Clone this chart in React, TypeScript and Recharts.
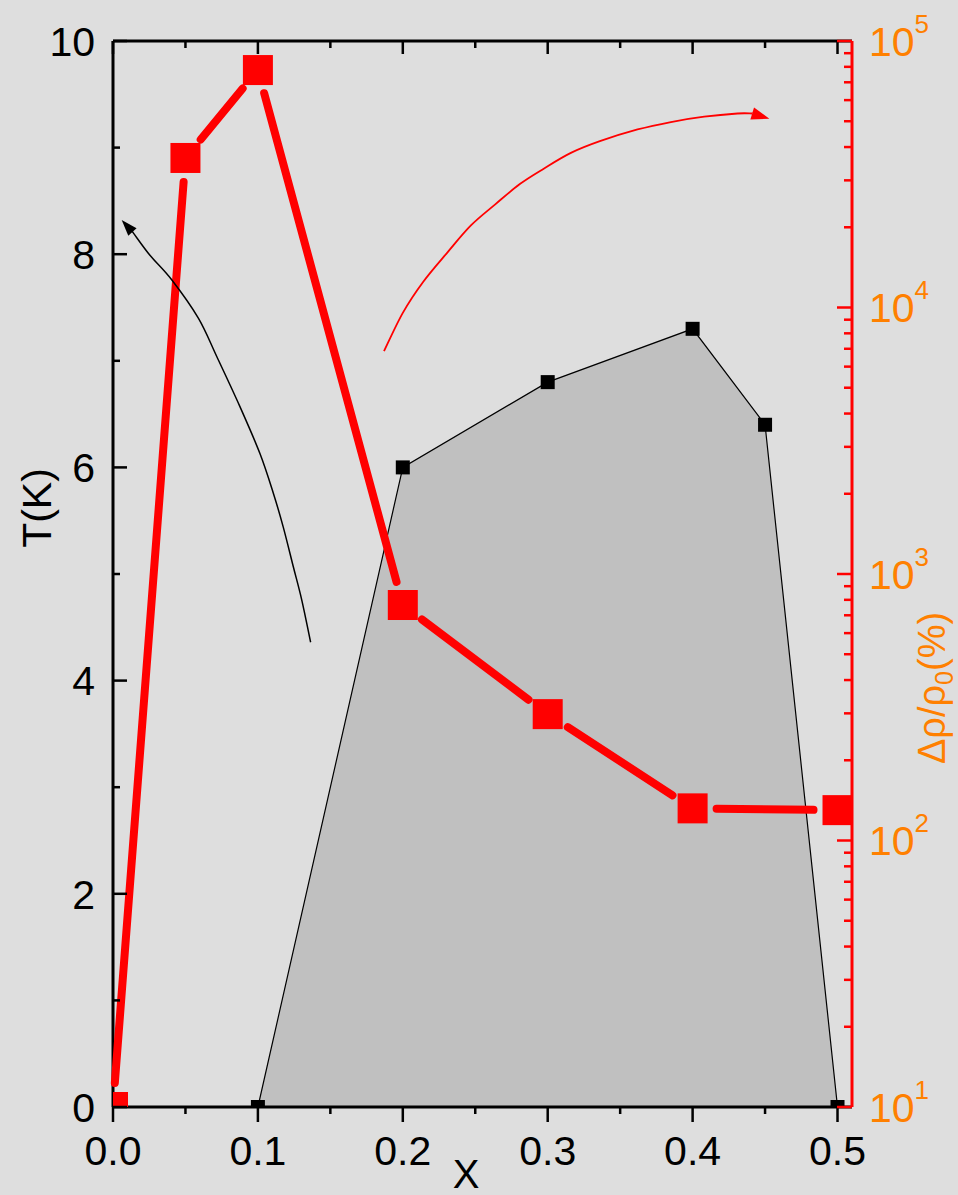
import React from "react";
import { Area, ComposedChart, Customized, Scatter, XAxis, YAxis } from "recharts";

const FONT = '"Liberation Sans", Arial, Helvetica, sans-serif';
const RED = "#ff0000";
const ORANGE = "#ff8000";

// T(K) against x, black squares and grey region
const xBlack = [0.1, 0.2, 0.3, 0.4, 0.45, 0.5];
const tBlack = [0, 6.0, 6.8, 7.3, 6.4, 0];

// Δρ/ρ0 (%) against x, red squares on the log axis
const xRed = [0, 0.05, 0.1, 0.2, 0.3, 0.4, 0.5];
const rhoRed = [10, 36400, 77800, 765, 298, 132, 130];

// annotation arrows, in (x, T) units, tip last
const blackArrowX = [0.1364, 0.1302, 0.1244, 0.1175, 0.1106, 0.1014, 0.0876, 0.0716, 0.0589, 0.0405, 0.0255, 0.014, 0.006];
const blackArrowT = [4.36, 4.76, 5.07, 5.44, 5.76, 6.13, 6.57, 7.04, 7.4, 7.76, 7.99, 8.2, 8.32];
const redArrowX = [0.187, 0.2, 0.214, 0.231, 0.247, 0.264, 0.281, 0.297, 0.316, 0.336, 0.362, 0.385, 0.408, 0.431, 0.441, 0.453];
const redArrowT = [7.09, 7.45, 7.74, 8.02, 8.27, 8.47, 8.66, 8.8, 8.95, 9.06, 9.17, 9.24, 9.29, 9.32, 9.32, 9.27];

const xTicks = [0, 0.05, 0.1, 0.15, 0.2, 0.25, 0.3, 0.35, 0.4, 0.45, 0.5];
const tTicks = [0, 1, 2, 3, 4, 5, 6, 7, 8, 9, 10];
const rhoTicks = [
  10, 20, 30, 40, 50, 60, 70, 80, 90,
  100, 200, 300, 400, 500, 600, 700, 800, 900,
  1000, 2000, 3000, 4000, 5000, 6000, 7000, 8000, 9000,
  10000, 20000, 30000, 40000, 50000, 60000, 70000, 80000, 90000,
  100000,
];

const blackData = xBlack.map((x, i) => ({ x, T: tBlack[i] }));
const redData = xRed.map((x, i) => ({ x, r: rhoRed[i] }));
const blackArrow = blackArrowX.map((x, i) => ({ x, T: blackArrowT[i] }));
const redArrow = redArrowX.map((x, i) => ({ x, T: redArrowT[i] }));

// plot box in pixels (follows from the margins and axis sizes below)
const PLOT = { left: 113, top: 41, right: 852, bottom: 1107 };

type Pt = { x: number; y: number };

function Square({ cx, cy, size, fill }: { cx: number; cy: number; size: number; fill: string }) {
  const x0 = Math.max(cx - size / 2, PLOT.left);
  const y0 = cy - size / 2;
  const y1 = Math.min(cy + size / 2, PLOT.bottom);
  const x1 = cx + size / 2;
  if (x1 <= x0 || y1 <= y0) return <g />;
  return <rect x={x0} y={y0} width={x1 - x0} height={y1 - y0} fill={fill} />;
}

// thick red line that stops short of each marker
function GapLine({ points }: { points: Pt[] }) {
  const gap = 24;
  const segs = [];
  for (let i = 0; i < points.length - 1; i++) {
    const p = points[i];
    const q = points[i + 1];
    const dx = q.x - p.x;
    const dy = q.y - p.y;
    const d = Math.hypot(dx, dy);
    if (d <= 2 * gap) continue;
    const ux = dx / d;
    const uy = dy / d;
    segs.push(
      <line
        key={i}
        x1={p.x + ux * gap}
        y1={p.y + uy * gap}
        x2={q.x - ux * gap}
        y2={q.y - uy * gap}
        stroke={RED}
        strokeWidth={8}
        strokeLinecap="round"
      />
    );
  }
  return <g>{segs}</g>;
}

function Arrow({ points, color, width, head }: { points: Pt[]; color: string; width: number; head: number }) {
  const n = points.length;
  const tip = points[n - 1];
  const prev = points[n - 2];
  const d = Math.hypot(tip.x - prev.x, tip.y - prev.y);
  const ux = (tip.x - prev.x) / d;
  const uy = (tip.y - prev.y) / d;
  const base = { x: tip.x - ux * head, y: tip.y - uy * head };
  const pts = [...points.slice(0, n - 1), base];
  let path = `M${pts[0].x},${pts[0].y}`;
  for (let i = 0; i < pts.length - 1; i++) {
    const p0 = pts[i - 1] || pts[i];
    const p1 = pts[i];
    const p2 = pts[i + 1];
    const p3 = pts[i + 2] || p2;
    const c1x = p1.x + (p2.x - p0.x) / 6;
    const c1y = p1.y + (p2.y - p0.y) / 6;
    const c2x = p2.x - (p3.x - p1.x) / 6;
    const c2y = p2.y - (p3.y - p1.y) / 6;
    path += ` C${c1x},${c1y} ${c2x},${c2y} ${p2.x},${p2.y}`;
  }
  const hw = head * 0.35;
  const headPts = `${tip.x},${tip.y} ${base.x - uy * hw},${base.y + ux * hw} ${base.x + uy * hw},${base.y - ux * hw}`;
  return (
    <g>
      <path d={path} fill="none" stroke={color} strokeWidth={width} />
      <polygon points={headPts} fill={color} />
    </g>
  );
}

const LeftTick = (props: any) => {
  const { x, y, payload } = props;
  const v = payload.value;
  const major = v % 2 === 0;
  return (
    <g>
      <line x1={x} y1={y} x2={x + (major ? 14 : 7)} y2={y} stroke="#000" strokeWidth={2.5} />
      {major && (
        <text x={x - 18} y={y} dy="0.36em" textAnchor="end" fontSize={41} fontFamily={FONT} fill="#000">
          {v}
        </text>
      )}
    </g>
  );
};

const BottomTick = (props: any) => {
  const { x, y, payload } = props;
  const v = payload.value;
  const major = Math.round(v * 100) % 10 === 0;
  return (
    <g>
      <line x1={x} y1={y} x2={x} y2={y + (major ? 15 : 7)} stroke="#000" strokeWidth={2.5} />
      {major && (
        <text x={x} y={y + 58} textAnchor="middle" fontSize={41} fontFamily={FONT} fill="#000">
          {v.toFixed(1)}
        </text>
      )}
    </g>
  );
};

const TopTick = (props: any) => {
  const { x, y, payload } = props;
  const major = Math.round(payload.value * 100) % 10 === 0;
  return <line x1={x} y1={y} x2={x} y2={y + (major ? 13 : 7)} stroke="#000" strokeWidth={2.5} />;
};

const RightTick = (props: any) => {
  const { x, y, payload } = props;
  const e = Math.log10(payload.value);
  const major = Math.abs(e - Math.round(e)) < 1e-9;
  return (
    <g>
      <line x1={x} y1={y} x2={x - (major ? 15 : 8)} y2={y} stroke={RED} strokeWidth={2.5} />
      {major && (
        <text x={x + 17} y={y} dy="0.36em" fontSize={41} fontFamily={FONT} fill={ORANGE}>
          10
          <tspan dy={-23} fontSize={26}>
            {Math.round(e)}
          </tspan>
        </text>
      )}
    </g>
  );
};

const Labels = () => (
  <g fontFamily={FONT}>
    <text x={51} y={508} transform="rotate(-90 51 508)" textAnchor="middle" fontSize={41} fill="#000">
      T(K)
    </text>
    <text x={466} y={1188} textAnchor="middle" fontSize={40} fill="#000">
      X
    </text>
    <text x={945} y={688} transform="rotate(-90 945 688)" textAnchor="middle" fontSize={38} fill={ORANGE}>
      Δρ/ρ
      <tspan dy={8} fontSize={25}>
        0
      </tspan>
      <tspan dy={-8}>(%)</tspan>
    </text>
    <text x={697} y={1022} textAnchor="end" fontSize={55} fill={RED}>
      WFM
    </text>
  </g>
);

export default function App() {
  return (
    <div style={{ position: "absolute", left: 0, top: 0, width: 958, height: 1195, background: "#dedede" }}>
      <ComposedChart
        width={958}
        height={1195}
        data={blackData}
        margin={{ top: 31, right: 66, bottom: 48, left: 73 }}
        style={{ fontFamily: FONT }}
      >
        <XAxis
          xAxisId="bottom"
          dataKey="x"
          type="number"
          domain={[0, 0.51]}
          ticks={xTicks}
          interval={0}
          height={40}
          tickSize={0}
          tickMargin={0}
          tickLine={false}
          tick={BottomTick}
          axisLine={{ stroke: "#000", strokeWidth: 3 }}
        />
        <XAxis
          xAxisId="top"
          orientation="top"
          dataKey="x"
          type="number"
          domain={[0, 0.51]}
          ticks={xTicks}
          interval={0}
          height={10}
          tickSize={0}
          tickMargin={0}
          tickLine={false}
          tick={TopTick}
          axisLine={{ stroke: "#000", strokeWidth: 3 }}
        />
        <YAxis
          yAxisId="left"
          dataKey="T"
          type="number"
          domain={[0, 10]}
          ticks={tTicks}
          interval={0}
          width={40}
          tickSize={0}
          tickMargin={0}
          tickLine={false}
          tick={LeftTick}
          axisLine={{ stroke: "#000", strokeWidth: 3 }}
        />
        <YAxis
          yAxisId="right"
          orientation="right"
          dataKey="r"
          type="number"
          scale="log"
          domain={[10, 100000]}
          ticks={rhoTicks}
          interval={0}
          width={40}
          tickSize={0}
          tickMargin={0}
          tickLine={false}
          tick={RightTick}
          axisLine={{ stroke: RED, strokeWidth: 3 }}
        />
        <Area
          xAxisId="bottom"
          yAxisId="left"
          dataKey="T"
          type="linear"
          stroke="#000"
          strokeWidth={1.2}
          fill="#c0c0c0"
          fillOpacity={1}
          isAnimationActive={false}
          activeDot={false}
          dot={(p: any) => <Square key={`b${p.index}`} cx={p.cx} cy={p.cy} size={14} fill="#000" />}
        />
        <Scatter
          data={redData}
          xAxisId="bottom"
          yAxisId="right"
          fill={RED}
          isAnimationActive={false}
          line={(p: any) => <GapLine points={p.points} />}
          shape={(p: any) => <Square cx={p.cx} cy={p.cy} size={30} fill={RED} />}
        />
        <Scatter
          data={blackArrow}
          xAxisId="top"
          yAxisId="left"
          fill="#000"
          isAnimationActive={false}
          line={(p: any) => <Arrow points={p.points} color="#000" width={1.5} head={16} />}
          shape={() => <g />}
        />
        <Scatter
          data={redArrow}
          xAxisId="top"
          yAxisId="left"
          fill={RED}
          isAnimationActive={false}
          line={(p: any) => <Arrow points={p.points} color={RED} width={1.8} head={18} />}
          shape={() => <g />}
        />
        <Customized component={Labels} />
      </ComposedChart>
    </div>
  );
}
